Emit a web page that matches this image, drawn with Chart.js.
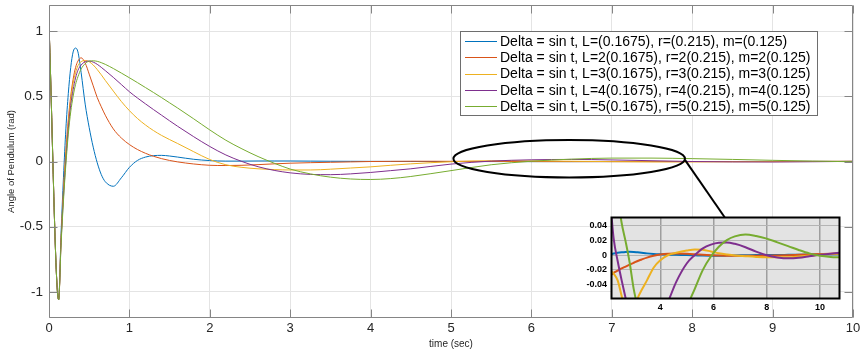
<!DOCTYPE html>
<html><head><meta charset="utf-8">
<script src="https://cdn.jsdelivr.net/npm/chart.js@4/dist/chart.umd.min.js"></script>
<style>
html,body{margin:0;padding:0;background:#fff;}
#wrap{position:relative;width:864px;height:355px;overflow:hidden;}
#main{position:absolute;left:0;top:0;}
#inset{position:absolute;left:583px;top:212px;}
</style></head><body>
<div id="wrap">
<canvas id="main" width="864" height="355"></canvas>
<canvas id="inset" width="262" height="105"></canvas>
</div>
<script>
// ---------- data ----------
const seriesLabels = [
  'Delta = sin t, L=(0.1675), r=(0.215), m=(0.125)',
  'Delta = sin t, L=2(0.1675), r=2(0.215), m=2(0.125)',
  'Delta = sin t, L=3(0.1675), r=3(0.215), m=3(0.125)',
  'Delta = sin t, L=4(0.1675), r=4(0.215), m=4(0.125)',
  'Delta = sin t, L=5(0.1675), r=5(0.215), m=5(0.125)'
];
const seriesColors = ['#0072BD', '#D95319', '#EDB120', '#7E2F8E', '#77AC30'];

const time = [0, 0.12, 0.15, 0.18, 0.21, 0.24, 0.27, 0.3, 0.33, 0.36,
  0.4, 0.45, 0.5, 0.55, 0.6, 0.65, 0.7, 0.8, 0.9, 1.0,
  1.1, 1.2, 1.3, 1.4, 1.5, 1.6, 1.8, 2.0, 2.2, 2.4,
  2.6, 2.8, 3.0, 3.25, 3.5, 3.75, 4.0, 4.25, 4.5, 5.0,
  5.5, 6.0, 6.5, 7.0, 7.5, 8.0, 8.5, 9.0, 9.5, 10.0];

const angleL1 = [1.05, -1.06, -0.55, -0.12, 0.25, 0.52, 0.72, 0.84, 0.87, 0.84,
  0.68, 0.44, 0.26, 0.11, -0.01, -0.1, -0.155, -0.19, -0.125, -0.045,
  0.008, 0.034, 0.045, 0.047, 0.042, 0.034, 0.017, 0.007, 0.003, 0.003,
  0.004, 0.004, 0.004, 0.003, 0.002, 0.0015, 0.001, 0.0005, 0.0002, 0,
  -0.0005, -0.001, -0.001, -0.0005, 0, 0, 0, 0.0003, 0.0006, 0.0008];
const angleL2 = [1.05, -1.06, -0.6, -0.22, 0.08, 0.32, 0.5, 0.63, 0.72, 0.77,
  0.795, 0.755, 0.67, 0.58, 0.49, 0.42, 0.355, 0.25, 0.18, 0.13,
  0.092, 0.063, 0.04, 0.022, 0.008, -0.003, -0.019, -0.029, -0.031, -0.029,
  -0.024, -0.018, -0.013, -0.009, -0.006, -0.003, 0.0, 0.001, 0.002, 0.0015,
  0.0005, -0.0005, -0.001, -0.001, -0.001, -0.001, -0.0005, 0.0003, 0.001, 0.0015];
const angleL3 = [1.05, -1.06, -0.6, -0.24, 0.05, 0.29, 0.47, 0.6, 0.68, 0.735,
  0.765, 0.775, 0.765, 0.74, 0.705, 0.665, 0.622, 0.54, 0.46, 0.39,
  0.33, 0.28, 0.237, 0.2, 0.168, 0.138, 0.075, 0.015, -0.025, -0.045,
  -0.056, -0.062, -0.065, -0.065, -0.059, -0.05, -0.041, -0.029, -0.018, -0.002,
  0.006, 0.005, 0.002, -0.001, -0.003, -0.003, -0.002, -0.001, 0, 0.001];
const angleL4 = [1.05, -1.06, -0.62, -0.27, 0.01, 0.25, 0.43, 0.55, 0.64, 0.7,
  0.74, 0.765, 0.77, 0.762, 0.745, 0.722, 0.697, 0.645, 0.59, 0.535,
  0.487, 0.442, 0.398, 0.355, 0.312, 0.27, 0.19, 0.115, 0.05, 0.0,
  -0.04, -0.068, -0.087, -0.099, -0.101, -0.095, -0.084, -0.07, -0.056, -0.02,
  0.003, 0.013, 0.016, 0.012, 0.006, 0.0, -0.003, -0.004, -0.002, 0.001];
const angleL5 = [1.05, -1.06, -0.64, -0.3, -0.02, 0.21, 0.38, 0.5, 0.59, 0.65,
  0.71, 0.75, 0.77, 0.772, 0.768, 0.758, 0.745, 0.713, 0.678, 0.642,
  0.605, 0.567, 0.529, 0.49, 0.45, 0.41, 0.327, 0.242, 0.163, 0.097,
  0.038, -0.013, -0.058, -0.095, -0.12, -0.134, -0.138, -0.131, -0.115, -0.07,
  -0.025, 0.002, 0.018, 0.026, 0.026, 0.022, 0.016, 0.009, 0.003, -0.002];

const xTicks = [0, 1, 2, 3, 4, 5, 6, 7, 8, 9, 10];
const yTicks = [-1, -0.5, 0, 0.5, 1];

// zoomed inset
const insetTime = [2.15, 2.25, 2.4, 2.55, 2.7, 2.85, 3.0, 3.15, 3.3, 3.5,
  3.75, 4.0, 4.3, 4.6, 5.0, 5.3, 5.6, 5.9, 6.2, 6.5,
  6.8, 7.2, 7.6, 8.0, 8.4, 8.8, 9.2, 9.6, 10.0, 10.4, 10.75];
const insetL1 = [0.001, 0.002, 0.003, 0.0037, 0.0042, 0.0044, 0.0042, 0.0036, 0.003, 0.0022,
  0.0015, 0.001, 0.0005, 0.0002, 0, -0.0004, -0.0008, -0.001, -0.001, -0.0008,
  -0.0005, -0.0003, 0, 0, 0, 0.0002, 0.0004, 0.0006, 0.0008, 0.001, 0.001];
const insetL2 = [-0.027, -0.024, -0.021, -0.018, -0.0155, -0.013, -0.0105, -0.008, -0.006, -0.0035,
  -0.001, 0.0008, 0.0018, 0.002, 0.0016, 0.001, 0.0003, -0.0003, -0.0008, -0.001,
  -0.001, -0.001, -0.001, -0.001, -0.0007, -0.0003, 0.0002, 0.0007, 0.0012, 0.0017, 0.002];
const insetL3 = [-0.021, -0.025, -0.034, -0.055, -0.075, -0.085, -0.074, -0.058, -0.047, -0.034,
  -0.017, -0.007, 0.0, 0.003, 0.006, 0.0075, 0.007, 0.0048, 0.0025, 0.0008,
  -0.0006, -0.0016, -0.0025, -0.003, -0.003, -0.003, -0.002, -0.0006, 0.0005, 0.0014, 0.002];
const insetL4 = [0.06, 0.022, -0.008, -0.034, -0.058, -0.08, -0.095, -0.105, -0.11, -0.11,
  -0.1, -0.085, -0.062, -0.036, -0.011, 0.0, 0.009, 0.014, 0.0165, 0.0168,
  0.015, 0.0105, 0.0045, -0.0003, -0.0032, -0.0045, -0.0038, -0.0018, 0.0003, 0.0018, 0.003];
const insetL5 = [0.15, 0.12, 0.08, 0.043, 0.018, -0.01, -0.045, -0.07, -0.095, -0.12,
  -0.135, -0.138, -0.128, -0.108, -0.07, -0.045, -0.02, -0.002, 0.011, 0.02,
  0.025, 0.0275, 0.0255, 0.022, 0.017, 0.012, 0.0068, 0.0022, -0.001, -0.0025, -0.003];
const insetXTicks = [4, 6, 8, 10];
const insetYTicks = [-0.04, -0.02, 0, 0.02, 0.04];

const mainSeries = [angleL1, angleL2, angleL3, angleL4, angleL5];
const insetSeries = [insetL1, insetL2, insetL3, insetL4, insetL5];

// ---------- rendering ----------
const FONT = "'Liberation Sans', Arial, Helvetica, sans-serif";

const noPad = s => { s.paddingTop = 0; s.paddingBottom = 0; s.paddingLeft = 0; s.paddingRight = 0; };

const framePlugin = {
  id: 'frame',
  afterDatasetsDraw(chart, args, o) {
    const {ctx, chartArea: a, scales} = chart;
    ctx.save();
    ctx.strokeStyle = o.color; ctx.lineWidth = o.width;
    const L = Math.round(a.left) + 0.5, R = Math.round(a.right) - 0.5;
    const T = Math.round(a.top) + 0.5, B = Math.round(a.bottom) - 0.5;
    ctx.beginPath();
    ctx.rect(L, T, R - L, B - T);
    if (o.tick > 0) {
      scales.x.ticks.forEach(t => {
        const p = Math.round(scales.x.getPixelForValue(t.value)) + 0.5;
        ctx.moveTo(p, B); ctx.lineTo(p, B - o.tick);
        ctx.moveTo(p, T); ctx.lineTo(p, T + o.tick);
      });
      scales.y.ticks.forEach(t => {
        const p = Math.round(scales.y.getPixelForValue(t.value)) + 0.5;
        ctx.moveTo(L, p); ctx.lineTo(L + o.tick, p);
        ctx.moveTo(R, p); ctx.lineTo(R - o.tick, p);
      });
    }
    ctx.stroke();
    ctx.restore();
  }
};

const zoomMarkPlugin = {
  id: 'zoomMark',
  afterDatasetsDraw(chart, args, o) {
    const {ctx, scales: {x, y}} = chart;
    const cx = x.getPixelForValue(o.cx), cy = y.getPixelForValue(o.cy);
    const rx = x.getPixelForValue(o.cx + o.rx) - cx;
    const ry = cy - y.getPixelForValue(o.cy + o.ry);
    ctx.save();
    ctx.strokeStyle = '#000'; ctx.lineWidth = 2;
    ctx.beginPath(); ctx.ellipse(cx, cy, rx, ry, 0, 0, Math.PI * 2); ctx.stroke();
    ctx.beginPath();
    ctx.moveTo(x.getPixelForValue(o.x1), y.getPixelForValue(o.y1));
    ctx.lineTo(x.getPixelForValue(o.x2), y.getPixelForValue(o.y2));
    ctx.stroke();
    ctx.restore();
  }
};

const boxLegendPlugin = {
  id: 'boxLegend',
  afterDraw(chart, args, o) {
    const {ctx} = chart;
    ctx.save();
    ctx.fillStyle = '#fff';
    ctx.fillRect(o.left, o.top, o.width, o.height);
    ctx.strokeStyle = o.border; ctx.lineWidth = 1;
    ctx.strokeRect(o.left + 0.5, o.top + 0.5, o.width, o.height);
    ctx.font = o.font; ctx.textBaseline = 'middle'; ctx.textAlign = 'left';
    chart.data.datasets.forEach((ds, i) => {
      const yy = o.top + o.first + i * o.step;
      ctx.strokeStyle = ds.borderColor; ctx.lineWidth = 1;
      ctx.beginPath(); ctx.moveTo(o.left + 5, Math.round(yy) + 0.5); ctx.lineTo(o.left + 37, Math.round(yy) + 0.5); ctx.stroke();
      ctx.fillStyle = '#000';
      ctx.fillText(ds.label, o.left + 40, yy + 1);
    });
    ctx.restore();
  }
};

const insetBgPlugin = {
  id: 'insetBg',
  beforeDraw(chart, args, o) {
    const {ctx, chartArea: a} = chart;
    ctx.save(); ctx.fillStyle = o.color;
    ctx.fillRect(a.left, a.top, a.right - a.left, a.bottom - a.top);
    ctx.restore();
  }
};

new Chart(document.getElementById('main'), {
  type: 'line',
  data: {
    datasets: mainSeries.map((vals, i) => ({
      label: seriesLabels[i],
      data: time.map((t, j) => ({x: t, y: vals[j]})),
      borderColor: seriesColors[i], borderWidth: 1, pointRadius: 0,
      cubicInterpolationMode: 'monotone', fill: false, order: mainSeries.length - 1 - i
    }))
  },
  options: {
    responsive: false, animation: false, events: [],
    layout: {padding: {left: 0, right: 11, top: 5, bottom: 0}},
    plugins: {
      legend: {display: false}, tooltip: {enabled: false},
      frame: {color: '#858585', width: 1, tick: 8},
      zoomMark: {cx: 6.47, cy: 0.021, rx: 1.44, ry: 0.143, x1: 7.91, y1: 0.012, x2: 8.41, y2: -0.433},
      boxLegend: {left: 460, top: 31, width: 357, height: 84, first: 10, step: 16.3, border: '#6e6e6e',
        font: '14px ' + FONT}
    },
    scales: {
      x: {
        type: 'linear', min: 0, max: 10,
        afterBuildTicks: s => { s.ticks = xTicks.map(v => ({value: v})); },
        afterFit: s => { s.height = 37; noPad(s); },
        grid: {color: '#e4e4e4', drawTicks: false},
        border: {display: false},
        ticks: {font: {family: FONT, size: 13}, color: '#262626', padding: 3, maxRotation: 0, callback: v => String(v)},
        title: {display: true, text: 'time (sec)', font: {family: FONT, size: 10}, color: '#262626', padding: {top: 0, bottom: 5}}
      },
      y: {
        type: 'linear', min: -1.2, max: 1.2,
        afterBuildTicks: s => { s.ticks = yTicks.map(v => ({value: v})); },
        afterFit: s => { s.width = 49; noPad(s); },
        grid: {color: '#e4e4e4', drawTicks: false},
        border: {display: false},
        ticks: {font: {family: FONT, size: 13.5}, color: '#262626', padding: 6, callback: v => String(v)},
        title: {display: true, text: 'Angle of Pendulum (rad)', font: {family: FONT, size: 9.5}, color: '#262626', padding: {top: 6, bottom: 0}}
      }
    }
  },
  plugins: [framePlugin, zoomMarkPlugin, boxLegendPlugin]
});

new Chart(document.getElementById('inset'), {
  type: 'line',
  data: {
    datasets: insetSeries.map((vals, i) => ({
      label: seriesLabels[i],
      data: insetTime.map((t, j) => ({x: t, y: vals[j]})),
      borderColor: seriesColors[i], borderWidth: 2, pointRadius: 0,
      cubicInterpolationMode: 'monotone', fill: false, order: insetSeries.length - 1 - i
    }))
  },
  options: {
    responsive: false, animation: false, events: [],
    layout: {padding: {left: 0, right: 5, top: 5, bottom: 0}},
    plugins: {
      legend: {display: false}, tooltip: {enabled: false},
      insetBg: {color: '#e3e3e3'},
      frame: {color: '#000', width: 2, tick: 0}
    },
    scales: {
      x: {
        type: 'linear', min: 2.15, max: 10.75,
        afterBuildTicks: s => { s.ticks = insetXTicks.map(v => ({value: v})); },
        afterFit: s => { s.height = 18; noPad(s); },
        grid: {color: '#9e9e9e', lineWidth: 1.5, drawTicks: false},
        border: {display: false},
        ticks: {font: {family: FONT, size: 9, weight: 'bold'}, color: '#000', padding: 3, maxRotation: 0, callback: v => String(v)},
      },
      y: {
        type: 'linear', min: -0.059, max: 0.051,
        afterBuildTicks: s => { s.ticks = insetYTicks.map(v => ({value: v})); },
        afterFit: s => { s.width = 28; noPad(s); },
        grid: {color: '#b4b4b4', lineWidth: 1, drawTicks: false},
        border: {display: false},
        ticks: {font: {family: FONT, size: 9, weight: 'bold'}, color: '#000', padding: 4, callback: v => String(v)}
      }
    }
  },
  plugins: [insetBgPlugin, framePlugin]
});
</script>
</body></html>
